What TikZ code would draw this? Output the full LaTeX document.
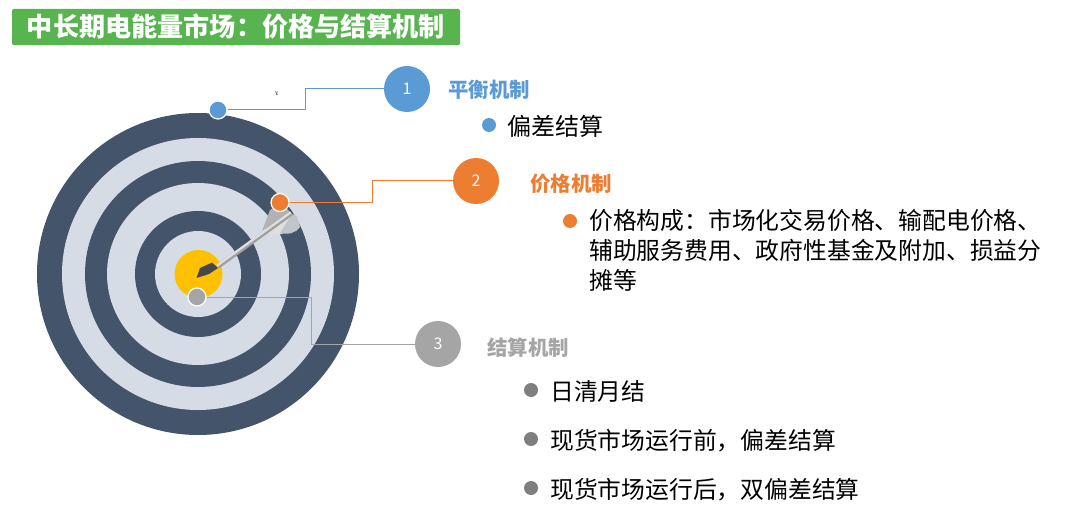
\documentclass[tikz,border=0pt]{standalone}
\usepackage{fontspec}
\setmainfont{Noto Sans CJK SC}
\usetikzlibrary{calc}
\definecolor{ringdark}{HTML}{44546A}
\definecolor{ringlight}{HTML}{D6DCE5}
\definecolor{cblue}{HTML}{5B9BD5}
\definecolor{corange}{HTML}{ED7D31}
\definecolor{cgrey}{HTML}{A5A5A5}
\definecolor{cgold}{HTML}{FFC000}
\definecolor{cgreen}{HTML}{57B44F}
\definecolor{bulgrey}{HTML}{7F7F7F}
\newcommand\fwcolon{\char"FF1A\relax}
\newcommand\fwcomma{\char"FF0C\relax}
\tikzset{
  x=0.75pt,y=-0.75pt,
  numc/.style={circle,fill=#1,text=white,minimum size=34.5pt,inner sep=0pt,font=\fontsize{12}{14}\selectfont},
  pin/.style={circle,fill=#1,draw=white,line width=0.9pt,minimum size=13.5pt,inner sep=0pt},
  bul/.style={circle,fill=#1,minimum size=10.5pt,inner sep=0pt},
  head/.style={anchor=west,text=#1,inner sep=0pt,font=\fontsize{15.3}{18}\selectfont\bfseries},
  body/.style={anchor=west,inner sep=0pt,text=black,align=left,font=\fontsize{17.85}{22.5}\selectfont},
  link/.style={draw=#1,line width=0.75pt},
}
\begin{document}
\begin{tikzpicture}
\useasboundingbox (0,0) rectangle (1080,513);
% title
\node[fill=cgreen,rounded corners=1pt,minimum width=336pt,minimum height=27pt,inner sep=0pt,text=white,font=\fontsize{19.6}{22}\selectfont\bfseries] (title) at (236,27) {中长期电能量市场\fwcolon 价格与结算机制};
% target
\fill[ringdark] (198,274) circle[radius=161];
\fill[ringlight] (198,274) circle[radius=136];
\fill[ringdark] (198,274) circle[radius=113];
\fill[ringlight] (198,274) circle[radius=91];
\fill[ringdark] (198,274) circle[radius=63];
\fill[ringlight] (198,274) circle[radius=43];
\fill[cgold] (198.5,274) circle[radius=24];
% dart flights
\fill[gray!60] (262,231) -- (270,210) -- (281,203) -- (292,214) -- cycle;
\fill[gray!25] (262,231) -- (292,214) -- (282,234) -- (272,235) -- cycle;
\fill[gray!25!ringlight] (280,233) -- (292,214) -- (297,216) -- (300,227) .. controls (296,233) and (288,235) .. (280,233) -- cycle;
% dart shaft
\fill[gray!75] (216,265) -- (290,211.5) -- (293,215) -- (219,268.5) -- cycle;
\fill[gray!25] (216,265) -- (290,211.5) -- (291.5,213.2) -- (217.5,266.7) -- cycle;
% dart head
\fill[black!72] (196.5,278) -- (200,268) -- (212,262.5) -- (218,268) -- (209,274) -- cycle;
% nodes
\node[numc=cblue] (n1) at (407,89) {1};
\node[numc=corange] (n2) at (476,181) {2};
\node[numc=cgrey] (n3) at (438,344) {3};
\node[pin=cblue] (p1) at (218,110) {};
\node[pin=corange] (p2) at (280,202.5) {};
\node[pin=cgrey] (p3) at (197,297) {};
\coordinate (k1) at (305.5,110);
\coordinate (k1b) at (305.5,89);
\coordinate (k2) at (372,202.5);
\coordinate (k2b) at (372,181);
\coordinate (k3) at (311,297);
\coordinate (k3b) at (311,344);
\draw[link=cblue] (p1) -- (k1) -- (k1b) -- (n1);
\draw[link=corange] (p2) -- (k2) -- (k2b) -- (n2);
\draw[link=cgrey] (p3) -- (k3) -- (k3b) -- (n3);
% cursor mark
\draw[gray,line width=0.4pt] (275.5,91) -- (276.5,95) (276.5,93) -- (278,91.5) (276.5,93) -- (278,95);
% headings
\node[head=cblue] (h1) at (448,89.5) {平衡机制};
\node[head=corange] (h2) at (530,183.5) {价格机制};
\node[head=cgrey] (h3) at (487,347.5) {结算机制};
% bullets and text
\node[bul=cblue] (b1) at (489,125) {};
\node[body,font=\fontsize{18}{22}\selectfont] (t1) at (507,126.5) {偏差结算};
\node[bul=corange] (b2) at (570,221) {};
\node[body,anchor=north west] (t2) at (589,209) {价格构成\fwcolon 市场化交易价格、输配电价格、\\辅助服务费用、政府性基金及附加、损益分\\摊等};
\node[bul=bulgrey] (b3) at (531,390) {};
\node[body] (t3) at (550,391.5) {日清月结};
\node[bul=bulgrey] (b4) at (531,439) {};
\node[body] (t4) at (550,440.5) {现货市场运行前\fwcomma 偏差结算};
\node[bul=bulgrey] (b5) at (531,488) {};
\node[body] (t5) at (550,489.5) {现货市场运行后\fwcomma 双偏差结算};
\end{tikzpicture}
\end{document}
